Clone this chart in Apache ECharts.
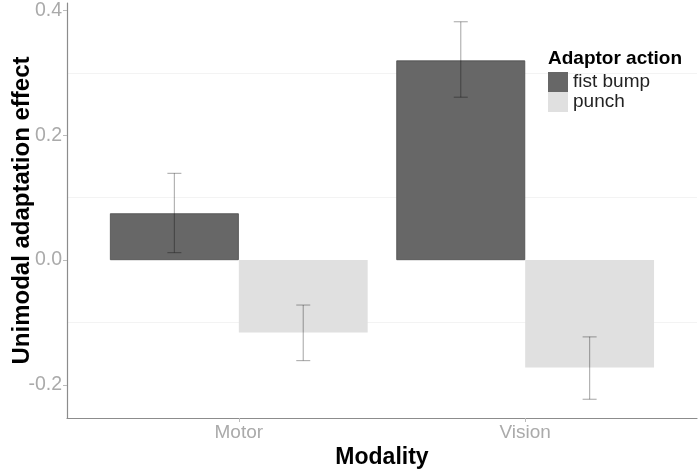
<!DOCTYPE html>
<html>
<head>
<meta charset="utf-8">
<script src="https://cdn.jsdelivr.net/npm/echarts@6/dist/echarts.min.js"></script>
<style>html,body{margin:0;padding:0;background:#fff;}#c{width:700px;height:474px;}</style>
</head>
<body>
<div id="c"></div>
<script>
const categories = ['Motor', 'Vision'];
const seriesNames = ['fist bump', 'punch'];
const fistBump = [0.075, 0.320];
const punch = [-0.116, -0.172];
const fistBumpErr = [[0.012, 0.139], [0.261, 0.382]];
const punchErr = [[-0.161, -0.072], [-0.223, -0.123]];
const yTicks = [-0.2, 0.0, 0.2, 0.4];
const minorGrid = [-0.1, 0.1, 0.3];

const dodge = 0.225;
const barPx = 0.45 * 630 / 2.2;
const font = 'Liberation Sans, Arial, sans-serif';

function toPoints(vals) { return vals.map((v, i) => [i + 1, v]); }
const errData = [];
fistBumpErr.forEach((e, i) => errData.push([i + 1 - dodge, e[0], e[1]]));
punchErr.forEach((e, i) => errData.push([i + 1 + dodge, e[0], e[1]]));

const chart = echarts.init(document.getElementById('c'));
chart.setOption({
  animation: false,
  textStyle: { fontFamily: font },
  grid: { left: 67, right: 3, top: 3, bottom: 56, containLabel: false, outerBoundsMode: 'none' },
  title: {
    text: 'Adaptor action', left: 548, top: 49,
    textStyle: { fontFamily: font, fontSize: 19, fontWeight: 'bold', color: '#000' },
    padding: 0
  },
  legend: {
    orient: 'vertical', left: 548, top: 72, padding: 0,
    itemWidth: 20, itemHeight: 20, itemGap: 0, icon: 'rect',
    data: seriesNames,
    textStyle: { fontFamily: font, fontSize: 19, color: '#222' },
    itemStyle: { borderWidth: 0 }
  },
  xAxis: {
    type: 'value', min: 0.4, max: 2.6,
    name: 'Modality', nameLocation: 'middle', nameGap: 28, nameMoveOverlap: false,
    nameTextStyle: { fontFamily: font, fontSize: 23, fontWeight: 'bold', color: '#000' },
    axisLine: { show: true, onZero: false, lineStyle: { color: '#8c8c8c', width: 1.2 } },
    axisTick: { show: true, length: 4, lineStyle: { color: '#bbb' }, customValues: [1, 2] },
    axisLabel: { customValues: [1, 2], margin: 5, fontSize: 19, color: '#aaa', fontFamily: font,
      formatter: v => categories[Math.round(v) - 1] || '' },
    splitLine: { show: false }
  },
  yAxis: {
    type: 'value', min: -0.253, max: 0.412,
    name: 'Unimodal adaptation effect', nameLocation: 'middle', nameGap: 33, nameMoveOverlap: false,
    nameTextStyle: { fontFamily: font, fontSize: 24, fontWeight: 'bold', color: '#000' },
    axisLine: { show: true, onZero: false, lineStyle: { color: '#8c8c8c', width: 1.2 } },
    axisTick: { show: true, length: 4, lineStyle: { color: '#bbb' }, customValues: yTicks },
    axisLabel: { customValues: yTicks, margin: 5, fontSize: 19.5, color: '#aaa', fontFamily: font,
      formatter: v => v.toFixed(1) },
    splitLine: { show: false }
  },
  series: [
    {
      type: 'line', data: [], silent: true, z: 0,
      markLine: {
        silent: true, symbol: 'none', label: { show: false }, z: 0,
        lineStyle: { color: '#f3f3f3', width: 1, type: 'solid' },
        data: minorGrid.map(v => ({ yAxis: v }))
      }
    },
    {
      name: seriesNames[0], type: 'bar', data: toPoints(fistBump),
      barWidth: barPx, barGap: '0%',
      itemStyle: { color: '#676767', borderColor: '#4a4a4a', borderWidth: 0.8 },
      z: 2
    },
    {
      name: seriesNames[1], type: 'bar', data: toPoints(punch),
      barWidth: barPx, barGap: '0%',
      itemStyle: { color: '#e0e0e0' },
      z: 2
    },
    {
      type: 'custom', data: errData, z: 5, silent: true,
      renderItem: function (params, api) {
        const x = api.value(0);
        const lo = api.coord([x, api.value(1)]);
        const hi = api.coord([x, api.value(2)]);
        const half = 7;
        const style = { stroke: 'rgba(0,0,0,0.3)', lineWidth: 1.2 };
        return {
          type: 'group', children: [
            { type: 'line', shape: { x1: lo[0], y1: lo[1], x2: hi[0], y2: hi[1] }, style },
            { type: 'line', shape: { x1: lo[0] - half, y1: lo[1], x2: lo[0] + half, y2: lo[1] }, style },
            { type: 'line', shape: { x1: hi[0] - half, y1: hi[1], x2: hi[0] + half, y2: hi[1] }, style }
          ]
        };
      }
    }
  ]
});
</script>
</body>
</html>
